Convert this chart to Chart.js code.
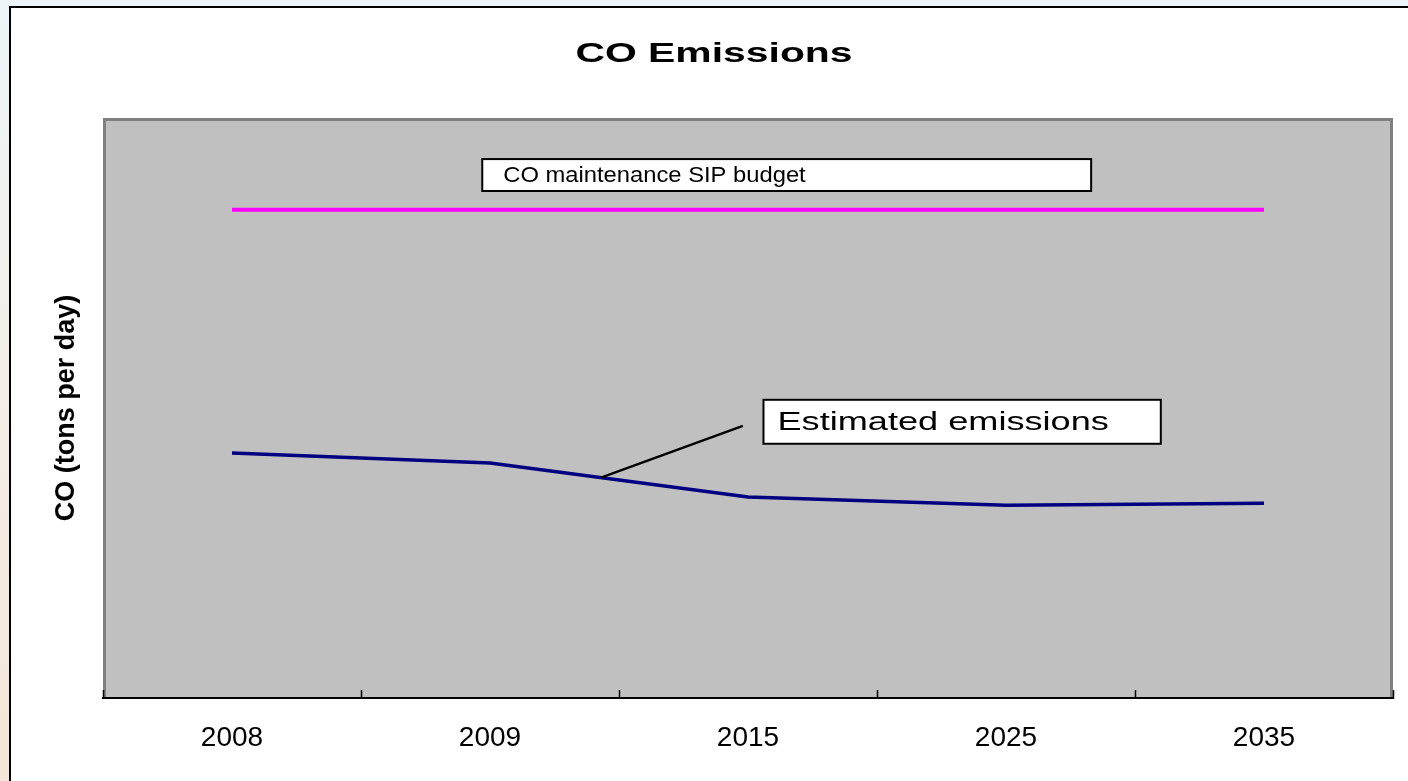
<!DOCTYPE html>
<html>
<head>
<meta charset="utf-8">
<script src="https://cdn.jsdelivr.net/npm/chart.js@4.4.1/dist/chart.umd.min.js"></script>
<style>
  html, body { margin: 0; padding: 0; }
  body {
    width: 1408px; height: 781px; overflow: hidden; position: relative;
    background: linear-gradient(to bottom, #edf5f8 0%, #f3eee6 50%, #f4e6d8 100%);
  }
  #frame {
    position: absolute; left: 9px; top: 6px; right: 0; bottom: 0;
    background: #fff; border-left: 2px solid #000; border-top: 2px solid #000;
  }
  #chart { position: absolute; left: 0; top: 0; }
</style>
</head>
<body>
<div id="frame"></div>
<canvas id="chart" width="1408" height="781"></canvas>
<script>
/* global Chart */

// ---------------------- Data ----------------------
const years = ["2008", "2009", "2015", "2025", "2035"];
const sipBudget = [101, 101, 101, 101, 101];
const estimated = [50.7, 48.6, 41.6, 39.9, 40.3];

const NAVY = "#000080";
const MAGENTA = "#ff00ff";
const FONT = "Arial, 'Liberation Sans', sans-serif";

// text callouts, anchored in data units (x = category index, y = value)
const notes = [
  { text: "CO maintenance SIP budget", x0: 0.97, x1: 3.33, yTop: 111.5, yBot: 104.9,
    size: 22, stretch: 1.08, padLeft: 21 },
  { text: "Estimated emissions", x0: 2.06, x1: 3.6, yTop: 61.7, yBot: 52.6,
    size: 26, stretch: 1.39, padLeft: 14 }
];
const leader = { x0: 1.43, y0: 45.6, x1: 1.98, y1: 56.3 };

// ---------------------- Helpers ----------------------

function stretchedText(ctx, text, x, y, font, sx, align) {
  ctx.save();
  ctx.font = font;
  ctx.textBaseline = "alphabetic";
  ctx.textAlign = "left";
  const w = ctx.measureText(text).width * sx;
  const left = align === "center" ? x - w / 2 : x;
  ctx.translate(left, y);
  ctx.scale(sx, 1);
  ctx.fillStyle = "#000";
  ctx.fillText(text, 0, 0);
  ctx.restore();
}

// gray plot area with darker edge
const plotFrame = {
  id: "plotFrame",
  beforeDraw(chart) {
    const { ctx, chartArea: a } = chart;
    ctx.save();
    ctx.fillStyle = "#c0c0c0";
    ctx.fillRect(a.left, a.top, a.right - a.left, a.bottom - a.top);
    ctx.strokeStyle = "#808080";
    ctx.lineWidth = 3;
    ctx.beginPath();
    ctx.moveTo(a.left + 1.5, a.bottom);
    ctx.lineTo(a.left + 1.5, a.top + 1.5);
    ctx.lineTo(a.right - 1.5, a.top + 1.5);
    ctx.lineTo(a.right - 1.5, a.bottom);
    ctx.stroke();
    ctx.restore();

    // chart title, drawn wide like the original
    stretchedText(ctx, "CO Emissions", chart.width / 2 + 10, 62, `bold 28px ${FONT}`, 1.46, "center");
  }
};

// boxed labels + leader line
const callouts = {
  id: "callouts",
  afterDatasetsDraw(chart) {
    const { ctx, scales: { x, y } } = chart;
    ctx.save();
    ctx.strokeStyle = "#000";
    ctx.lineWidth = 2.5;
    ctx.beginPath();
    ctx.moveTo(x.getPixelForValue(leader.x0), y.getPixelForValue(leader.y0));
    ctx.lineTo(x.getPixelForValue(leader.x1), y.getPixelForValue(leader.y1));
    ctx.stroke();

    notes.forEach(n => {
      const l = x.getPixelForValue(n.x0), r = x.getPixelForValue(n.x1);
      const t = y.getPixelForValue(n.yTop), b = y.getPixelForValue(n.yBot);
      ctx.fillStyle = "#fff";
      ctx.fillRect(l, t, r - l, b - t);
      ctx.lineWidth = 2;
      ctx.strokeStyle = "#000";
      ctx.strokeRect(l, t, r - l, b - t);
      const base = (t + b) / 2 + n.size * 0.33;
      stretchedText(ctx, n.text, l + n.padLeft, base, `${n.size}px ${FONT}`, n.stretch, "left");
    });
    ctx.restore();
  }
};

// ---------------------- Chart ----------------------

new Chart(document.getElementById("chart").getContext("2d"), {
  type: "line",
  data: {
    labels: years,
    datasets: [
      {
        label: "CO maintenance SIP budget",
        data: sipBudget,
        borderColor: MAGENTA,
        backgroundColor: MAGENTA,
        borderWidth: 4,
        pointRadius: 0,
        tension: 0
      },
      {
        label: "Estimated emissions",
        data: estimated,
        borderColor: NAVY,
        backgroundColor: NAVY,
        borderWidth: 3.5,
        pointRadius: 0,
        tension: 0
      }
    ]
  },
  options: {
    responsive: false,
    animation: false,
    layout: { padding: { top: 118, right: 15, left: 0, bottom: 0 } },
    plugins: {
      legend: { display: false },
      title: { display: false },
      tooltip: { enabled: false }
    },
    scales: {
      x: {
        offset: true,
        afterFit: (s) => { s.height = 83; },
        border: { display: true, color: "#000", width: 2 },
        grid: {
          offset: true,
          drawOnChartArea: false,
          drawTicks: true,
          tickLength: -8,
          tickColor: "#000",
          tickWidth: 1.5
        },
        ticks: {
          color: "#000",
          padding: 31,
          maxRotation: 0,
          autoSkip: false,
          font: { family: FONT, size: 28 }
        }
      },
      y: {
        min: 0,
        max: 120,
        afterFit: (s) => { s.width = 103; },
        border: { display: false },
        grid: { display: false },
        ticks: { display: false },
        title: {
          display: true,
          text: "CO (tons per day)",
          color: "#000",
          padding: { top: 50, bottom: 0 },
          font: { family: FONT, size: 27, weight: "bold" }
        }
      }
    }
  },
  plugins: [plotFrame, callouts]
});
</script>
</body>
</html>
